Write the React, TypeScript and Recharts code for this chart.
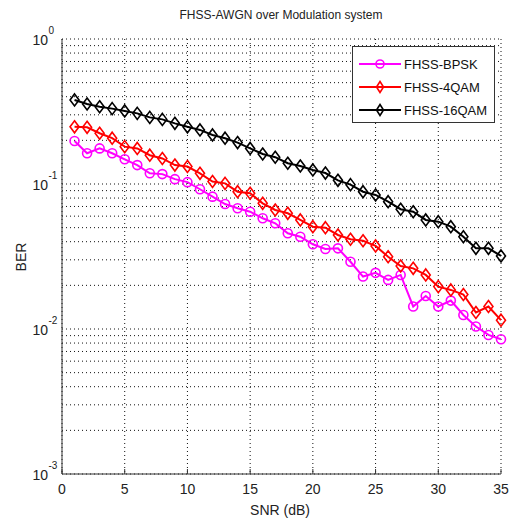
import React from "react";
import { LineChart, Line, XAxis, YAxis, CartesianGrid, Legend } from "recharts";

const snr = [
  1, 2, 3, 4, 5, 6, 7, 8, 9, 10, 11, 12, 13, 14, 15, 16, 17, 18, 19, 20, 21,
  22, 23, 24, 25, 26, 27, 28, 29, 30, 31, 32, 33, 34, 35,
];

const bpsk = [
  0.198, 0.163, 0.176, 0.163, 0.148, 0.135, 0.1185, 0.117, 0.108, 0.103,
  0.092, 0.0818, 0.0728, 0.068, 0.0644, 0.058, 0.0536, 0.0457, 0.0433, 0.0384,
  0.0356, 0.036, 0.0291, 0.023, 0.0244, 0.0218, 0.0236, 0.0143, 0.0169,
  0.0143, 0.0157, 0.0125, 0.0104, 0.0091, 0.0085,
];

const qam4 = [
  0.248, 0.246, 0.224, 0.207, 0.181, 0.176, 0.158, 0.15, 0.135, 0.132, 0.1185,
  0.104, 0.101, 0.0885, 0.0863, 0.0736, 0.0662, 0.0628, 0.0565, 0.0508, 0.05,
  0.0445, 0.0416, 0.0406, 0.0374, 0.0315, 0.0272, 0.0262, 0.0236, 0.0196,
  0.0186, 0.0173, 0.013, 0.0143, 0.0115,
];

const qam16 = [
  0.38, 0.356, 0.341, 0.331, 0.319, 0.307, 0.288, 0.279, 0.262, 0.248, 0.236,
  0.218, 0.207, 0.193, 0.176, 0.161, 0.153, 0.139, 0.133, 0.125, 0.119, 0.106,
  0.099, 0.0885, 0.084, 0.0755, 0.067, 0.0644, 0.0565, 0.055, 0.0508, 0.0433,
  0.036, 0.036, 0.0319,
];

const seriesNames = ["FHSS-BPSK", "FHSS-4QAM", "FHSS-16QAM"];
const seriesColors = ["#ff00ff", "#ff0000", "#000000"];

const xTicks = [0, 5, 10, 15, 20, 25, 30, 35];
const decadeTicks = [0.001, 0.01, 0.1, 1];

// log grid: 1..9 inside every decade
const gridTicks: number[] = [];
decadeTicks.slice(0, 3).forEach((d) => {
  for (let m = 1; m < 10; m++) gridTicks.push(+(d * m).toPrecision(3));
});
gridTicks.push(1);

const data = snr.map((s, i) => ({
  snr: s,
  bpsk: bpsk[i],
  qam4: qam4[i],
  qam16: qam16[i],
}));

const font = '"Liberation Sans", Arial, Helvetica, sans-serif';
const axisColor = "#333";

const isDecade = (v: number) =>
  Math.abs(Math.log10(v) - Math.round(Math.log10(v))) < 1e-6;

const BottomTick = ({ x, y, payload }: any) => (
  <g>
    <line x1={x} y1={y} x2={x} y2={y - 5} stroke={axisColor} />
    <text
      x={x}
      y={y + 20}
      textAnchor="middle"
      fontSize={14}
      fontFamily={font}
      fill="#222"
    >
      {payload.value}
    </text>
  </g>
);

const TopTick = ({ x, y }: any) => (
  <line x1={x} y1={y} x2={x} y2={y + 5} stroke={axisColor} />
);

const LeftLabelTick = ({ x, y, payload }: any) => {
  const exp = Math.round(Math.log10(payload.value));
  return (
    <g fontFamily={font} fill="#222">
      <text x={x - 14} y={y + 5.5} textAnchor="end" fontSize={14}>
        10
      </text>
      <text x={x - 13.5} y={y - 5} textAnchor="start" fontSize={10}>
        {exp === 0 ? "0" : `-${Math.abs(exp)}`}
      </text>
    </g>
  );
};

const LeftGridTick = ({ x, y, payload }: any) => (
  <line
    x1={x}
    y1={y}
    x2={x + (isDecade(payload.value) ? 5 : 3)}
    y2={y}
    stroke={axisColor}
  />
);

const RightGridTick = ({ x, y, payload }: any) => (
  <line
    x1={x}
    y1={y}
    x2={x - (isDecade(payload.value) ? 5 : 3)}
    y2={y}
    stroke={axisColor}
  />
);

const circleDot = (color: string) => (props: any) => (
  <circle
    key={`c-${props.index}`}
    cx={props.cx}
    cy={props.cy}
    r={4.5}
    fill="none"
    stroke={color}
    strokeWidth={1.6}
  />
);

const diamondDot = (color: string) => (props: any) => {
  const { cx, cy } = props;
  return (
    <path
      key={`d-${props.index}`}
      d={`M${cx},${cy - 6}L${cx + 4.5},${cy}L${cx},${cy + 6}L${cx - 4.5},${cy}Z`}
      fill="none"
      stroke={color}
      strokeWidth={1.6}
    />
  );
};

const renderLegend = (props: any) => {
  const payload = props.payload || [];
  // keep the plotting order, whatever order recharts hands us
  const entries = seriesNames
    .map((n) => payload.find((p: any) => p.value === n))
    .filter(Boolean);
  return (
    <div
      style={{
        width: 141,
        height: 75,
        border: `1px solid ${axisColor}`,
        background: "#fff",
      }}
    >
      <svg width={141} height={75} style={{ display: "block" }}>
        {entries.map((entry: any, i: number) => {
          const cy = 17 + i * 23;
          const color = entry.color;
          return (
            <g key={entry.value}>
              <line x1={6} y1={cy} x2={48} y2={cy} stroke={color} strokeWidth={2} />
              {entry.value === seriesNames[0] ? (
                <circle cx={27} cy={cy} r={4} fill="none" stroke={color} strokeWidth={1.6} />
              ) : (
                <path
                  d={`M27,${cy - 5.5}L30.5,${cy}L27,${cy + 5.5}L23.5,${cy}Z`}
                  fill="none"
                  stroke={color}
                  strokeWidth={1.6}
                />
              )}
              <text x={51} y={cy + 5} fontSize={13} fontFamily={font} fill="#111">
                {entry.value}
              </text>
            </g>
          );
        })}
      </svg>
    </div>
  );
};

export default function App() {
  return (
    <div>
      <style>{`body { margin: 0; background: #fff; }`}</style>
      <LineChart
        width={513}
        height={522}
        data={data}
        margin={{ top: 39, right: 12, left: 10, bottom: 0 }}
      >
        <CartesianGrid yAxisId="gl" stroke="#111" strokeDasharray="1 3" />
        <XAxis
          dataKey="snr"
          type="number"
          domain={[0, 35]}
          ticks={xTicks}
          interval={0}
          height={48}
          tickSize={0}
          tickMargin={0}
          tickLine={false}
          tick={<BottomTick />}
          axisLine={{ stroke: axisColor }}
        />
        <XAxis
          xAxisId="top"
          orientation="top"
          dataKey="snr"
          type="number"
          domain={[0, 35]}
          ticks={xTicks}
          interval={0}
          height={0}
          tickSize={0}
          tickMargin={0}
          tickLine={false}
          tick={<TopTick />}
          axisLine={{ stroke: axisColor }}
        />
        <YAxis
          yAxisId="gl"
          scale="log"
          type="number"
          domain={[0.001, 1]}
          allowDataOverflow
          ticks={gridTicks}
          interval={0}
          width={0}
          tickSize={0}
          tickMargin={0}
          tickLine={false}
          tick={<LeftGridTick />}
          axisLine={{ stroke: axisColor }}
        />
        <YAxis
          scale="log"
          type="number"
          domain={[0.001, 1]}
          allowDataOverflow
          ticks={decadeTicks}
          interval={0}
          width={52}
          tickSize={0}
          tickMargin={0}
          tickLine={false}
          tick={<LeftLabelTick />}
          axisLine={{ stroke: axisColor }}
        />
        <YAxis
          yAxisId="gr"
          orientation="right"
          scale="log"
          type="number"
          domain={[0.001, 1]}
          allowDataOverflow
          ticks={gridTicks}
          interval={0}
          width={0}
          tickSize={0}
          tickMargin={0}
          tickLine={false}
          tick={<RightGridTick />}
          axisLine={{ stroke: axisColor }}
        />
        <Line
          dataKey="bpsk"
          name={seriesNames[0]}
          stroke={seriesColors[0]}
          strokeWidth={2}
          dot={circleDot(seriesColors[0])}
          isAnimationActive={false}
        />
        <Line
          dataKey="qam4"
          name={seriesNames[1]}
          stroke={seriesColors[1]}
          strokeWidth={2}
          dot={diamondDot(seriesColors[1])}
          isAnimationActive={false}
        />
        <Line
          dataKey="qam16"
          name={seriesNames[2]}
          stroke={seriesColors[2]}
          strokeWidth={2}
          dot={diamondDot(seriesColors[2])}
          isAnimationActive={false}
        />
        <Legend
          layout="vertical"
          align="center"
          verticalAlign="middle"
          content={renderLegend}
          wrapperStyle={{ left: 352, top: 46, width: 143 }}
        />
        <text
          x={281}
          y={18.5}
          textAnchor="middle"
          fontSize={12}
          fontFamily={font}
          fill="#222"
        >
          FHSS-AWGN over Modulation system
        </text>
        <text
          transform="translate(25.5,257) rotate(-90)"
          textAnchor="middle"
          fontSize={14}
          fontFamily={font}
          fill="#222"
        >
          BER
        </text>
        <text
          x={280}
          y={515}
          textAnchor="middle"
          fontSize={14}
          fontFamily={font}
          fill="#222"
        >
          SNR (dB)
        </text>
      </LineChart>
    </div>
  );
}
